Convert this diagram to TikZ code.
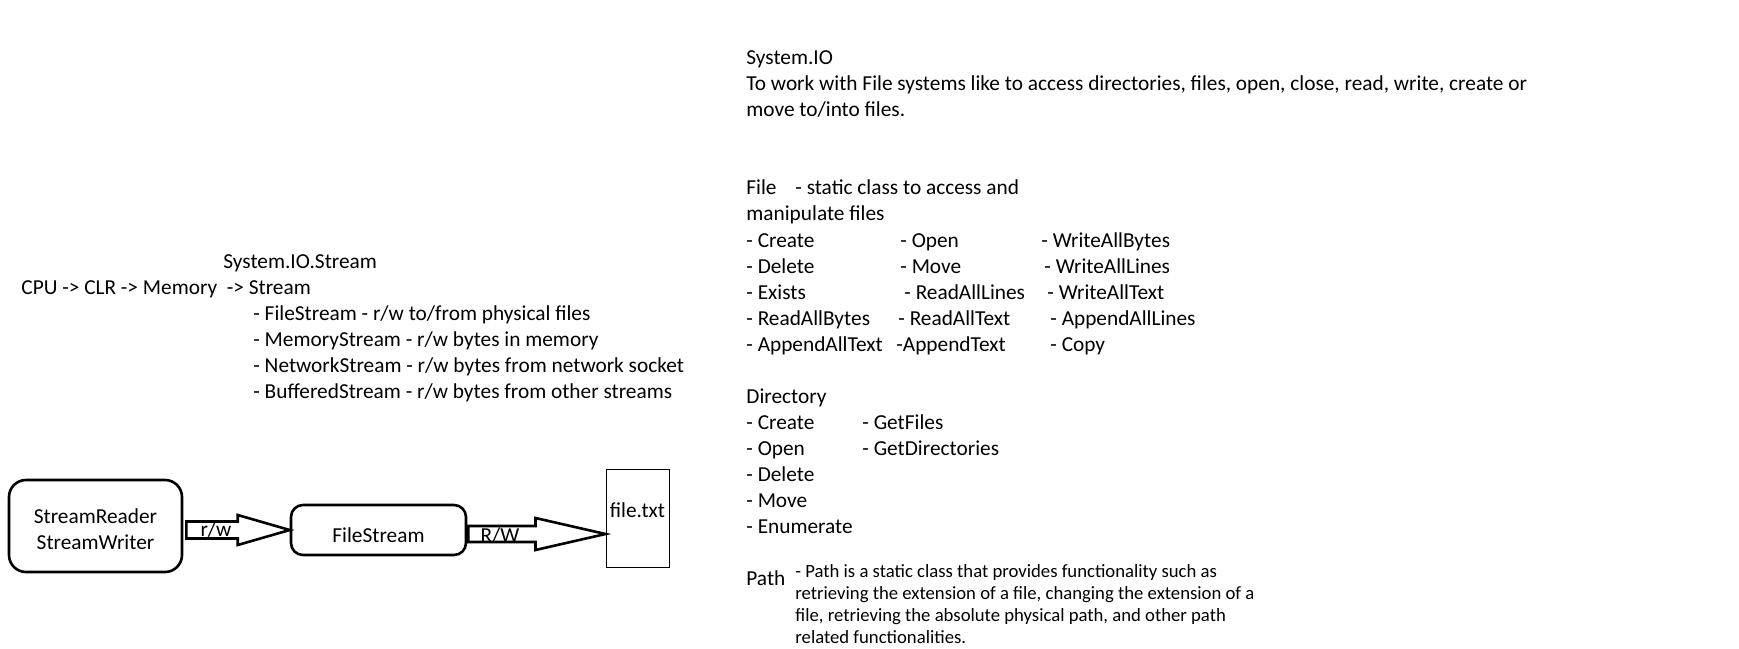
\documentclass[tikz,border=0pt]{standalone}
\usepackage{fontspec}
\setmainfont{Carlito}
\usetikzlibrary{positioning,calc}

\tikzset{
  txt/.style={anchor=base west, inner sep=0pt, font=\fontsize{10.66pt}{13pt}\selectfont},
  smalltxt/.style={txt, font=\fontsize{9.35pt}{11.2pt}\selectfont},
  thickbox/.style={draw, line width=1.3pt, align=center, inner sep=0pt, font=\fontsize{10.66pt}{13pt}\selectfont},
  blockarr/.style={draw, line width=1.3pt},
}

\begin{document}
\begin{tikzpicture}[x=0.5pt, y=-0.5pt]
  \useasboundingbox (0,0) rectangle (1739,648);
  % Streams
  \node[txt] (sio) at (223,268) {System.IO.Stream};
  \node[txt] (cpu) at (21,294) {CPU -> CLR -> Memory \ -> Stream};
  \foreach \yy/\txt [count=\i] in {320/{- FileStream - r/w to/from physical files},
      346/{- MemoryStream - r/w bytes in memory},
      372/{- NetworkStream - r/w bytes from network socket},
      398/{- BufferedStream - r/w bytes from other streams}} {
    \node[txt] (st\i) at (253,\yy) {\txt};
  }
  % System.IO
  \node[txt] (sysio) at (746,64) {System.IO};
  \node[txt] (introa) at (746,90) {To work with File systems like to access directories, files, open, close, read, write, create or};
  \node[txt] (introb) at (746,116) {move to/into files.};
  % File
  \node[txt] (filehd) at (746,194) {File};
  \node[txt] (filedsc) at (795,194) {- static class to access and};
  \node[txt] (filedscb) at (746,220) {manipulate files};
  \foreach \yy/\xB/\xC/\colA/\colB/\colC [count=\i] in {
      247/900/1041/{- Create}/{- Open}/{- WriteAllBytes},
      273/900/1044/{- Delete}/{- Move}/{- WriteAllLines},
      299/904/1047/{- Exists}/{- ReadAllLines}/{- WriteAllText},
      325/898/1050/{- ReadAllBytes}/{- ReadAllText}/{- AppendAllLines},
      351/896/1050/{- AppendAllText}/{-AppendText}/{- Copy}} {
    \node[txt] (fa\i) at (746,\yy) {\colA};
    \node[txt] (fb\i) at (\xB,\yy) {\colB};
    \node[txt] (fc\i) at (\xC,\yy) {\colC};
  }
  % Directory
  \node[txt] (dirhd) at (746,403) {Directory};
  \foreach \yy/\colA [count=\i] in {429/{- Create}, 455/{- Open}, 481/{- Delete}, 507/{- Move}, 533/{- Enumerate}} {
    \node[txt] (da\i) at (746,\yy) {\colA};
  }
  \node[txt] (db1) at (862,429) {- GetFiles};
  \node[txt] (db2) at (862,455) {- GetDirectories};
  % Path
  \node[txt] (pathhd) at (746,585) {Path};
  \foreach \yy/\txt [count=\i] in {577/{- Path is a static class that provides functionality such as},
      599/{retrieving the extension of a file, changing the extension of a},
      621/{file, retrieving the absolute physical path, and other path},
      643/{related functionalities.}} {
    \node[smalltxt] (pd\i) at (795,\yy) {\txt};
  }
  % Reader/Writer -> FileStream -> file
  \node[thickbox, minimum width=86.5pt, minimum height=46pt, rounded corners=8.5pt] (srw) at (95.5,526) {\rule{0pt}{11pt}StreamReader\\StreamWriter};
  \node[thickbox, minimum width=87.5pt, rounded corners=6pt, text height=18.5pt, text depth=6.5pt] (fs) at (378.5,530) {FileStream};
  \node[draw, line width=0.5pt, minimum width=31.5pt, inner sep=0pt, text height=24pt, text depth=25pt,
    font=\fontsize{10.66pt}{13pt}\selectfont] (ftxt) at (637.5,518) {file.txt};
  \draw[blockarr] ($(srw.east |- fs.west)+(3,-8.5)$) -- ($(fs.west)+(-52,-8.5)$) -- ($(fs.west)+(-52,-15)$)
    -- (fs.west) -- ($(fs.west)+(-52,15)$) -- ($(fs.west)+(-52,8.5)$) -- ($(srw.east |- fs.west)+(3,8.5)$) -- cycle;
  \node[txt, anchor=base] (rw) at (216,536) {r/w};
  \coordinate (tip) at ($(ftxt.west |- fs.east)+(0,4)$);
  \draw[blockarr] ($(fs.east |- tip)+(1,-8)$) -- ($(tip)+(-70,-8)$) -- ($(tip)+(-70,-16)$)
    -- (tip) -- ($(tip)+(-70,16)$) -- ($(tip)+(-70,8)$) -- ($(fs.east |- tip)+(1,8)$) -- cycle;
  \node[txt, anchor=base] (RW) at (500,542) {R/W};
\end{tikzpicture}
\end{document}
